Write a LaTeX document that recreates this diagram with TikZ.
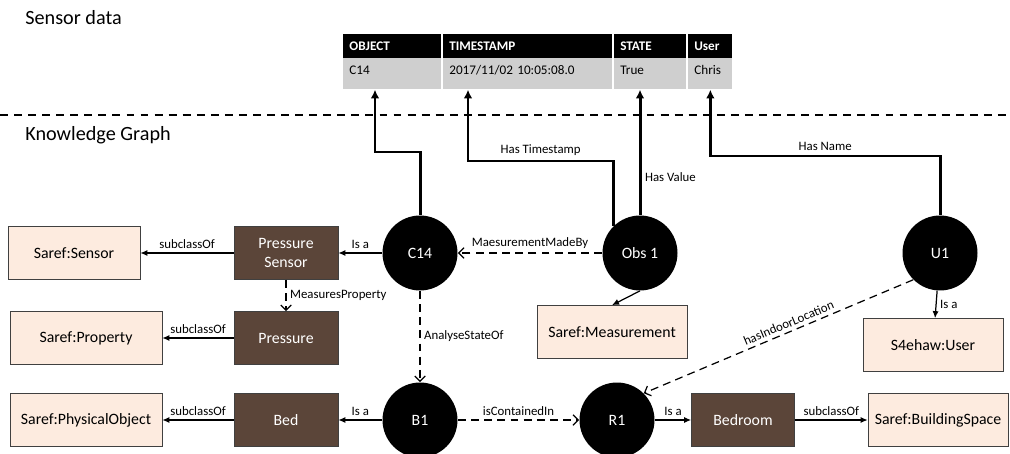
\documentclass[tikz,border=0pt]{standalone}
\usepackage{fontspec}
\setmainfont{Carlito}
\usepackage{tikz}
\usetikzlibrary{arrows.meta}
\usetikzlibrary{shapes,positioning,calc}
\definecolor{classBrown}{HTML}{5B4539}
\definecolor{sarefPeach}{HTML}{FDEBDF}
\definecolor{cellGray}{HTML}{CFCFCF}
\definecolor{boxBorder}{HTML}{404040}
\tikzset{kg-line/.style={line width=0.7pt}}
\tikzset{>=latex}
\tikzset{is-arrow/.style={kg-line, -{Latex[length=4pt, width=3.5pt]}}}
\tikzset{link-arrow/.style={kg-line, dash pattern=on 4.5pt off 3pt, -{Straight Barb[length=3pt, width=6pt]}}}
\tikzset{data-arrow/.style={line width=1.7pt, -{Latex[length=5pt, width=5pt]}}}
\tikzset{edge-label/.style={font=\fontsize{7.3}{9}\selectfont, inner sep=2pt}}
\tikzset{title-label/.style={anchor=west, inner sep=0, font=\fontsize{11.5}{13}\selectfont}}
\tikzset{instance-node/.style={circle, fill=black, text=white, minimum size=1.5cm, inner sep=0, font=\fontsize{9}{10.5}\selectfont}}
\tikzset{class-node/.style={draw=boxBorder, fill=classBrown, text=white, minimum width=2.08cm, minimum height=1.06cm, align=center, inner sep=0, font=\fontsize{9}{10.5}\selectfont}}
\tikzset{saref-node/.style={draw=boxBorder, fill=sarefPeach, minimum height=1.06cm, inner sep=0, font=\fontsize{9}{10.5}\selectfont}}
\tikzset{head-cell/.style={fill=black, text=white, anchor=north west, align=left, inner xsep=0.12cm, inner ysep=0, text height=0.32cm, text depth=0.16cm, font=\bfseries\fontsize{7.5}{9}\selectfont}}
\tikzset{data-cell/.style={fill=cellGray, anchor=north west, align=left, inner xsep=0.12cm, inner ysep=0, text height=0.32cm, text depth=0.3cm, font=\fontsize{7.5}{9}\selectfont}}

\begin{document}
\begin{tikzpicture}[x=0.02cm, y=-0.02cm]
    \useasboundingbox (0,0) rectangle (1010,453);

    \node[title-label] (sensortitle) at (25,18) {Sensor data};
    \node[title-label] (kgtitle) at (25,135) {Knowledge Graph};
    \draw[line width=1.1pt, dash pattern=on 4.5pt off 3.5pt] (0,115) -- (1010,115);

    % sensor table
    \node[head-cell, text width=1.72cm] (obj-head) at (343,34) {OBJECT};
    \node[head-cell, text width=3.14cm] (ts-head) at (443,34) {TIMESTAMP};
    \node[head-cell, text width=1.2cm] (state-head) at (614,34) {STATE};
    \node[head-cell, text width=0.64cm] (user-head) at (688,34) {User};
    \node[data-cell, text width=1.72cm] (obj-cell) at (343,58) {C14};
    \node[data-cell, text width=3.14cm] (ts-cell) at (443,58) {2017/11/02 10:05:08.0};
    \node[data-cell, text width=1.2cm] (state-cell) at (614,58) {True};
    \node[data-cell, text width=0.64cm] (user-cell) at (688,58) {Chris};

    % instances
    \node[instance-node] (c14) at (420,253) {C14};
    \node[instance-node] (obs1) at (640,253) {Obs 1};
    \node[instance-node] (u1) at (940,253) {U1};
    \node[instance-node] (b1) at (420,420) {B1};
    \node[instance-node] (r1) at (617,420) {R1};

    % classes
    \node[class-node] (psensor) at (286,253) {Pressure\\Sensor};
    \node[class-node] (pressure) at (286,338) {Pressure};
    \node[class-node] (bed) at (286,420) {Bed};
    \node[class-node, minimum width=2.06cm] (bedroom) at (743,420) {Bedroom};

    \node[saref-node, minimum width=2.64cm] (sensor) at (74,253) {Saref:Sensor};
    \node[saref-node, minimum width=3.04cm] (property) at (86,338) {Saref:Property};
    \node[saref-node, minimum width=3.04cm] (physobj) at (86,420) {Saref:PhysicalObject};
    \node[saref-node, minimum width=3cm] (measurement) at (612,332) {Saref:Measurement};
    \node[saref-node, minimum width=2.8cm] (s4user) at (933,345) {S4ehaw:User};
    \node[saref-node, minimum width=2.8cm] (buildspace) at (938,420) {Saref:BuildingSpace};

    % links to the sensor data
    \draw[data-arrow] (c14.north) -- (c14.north |- 0,152) -| ([xshift=0.64cm]obj-cell.south west);
    \draw[data-arrow] (obs1.north west) -- (obs1.north west |- 0,161)
        -- node[edge-label, above] {Has Timestamp} ([xshift=0.5cm]ts-cell.south west |- 0,161)
        -- ([xshift=0.5cm]ts-cell.south west);
    \draw[data-arrow] (obs1.north) -- node[edge-label, right, pos=0.3] {Has Value} (obs1.north |- state-cell.south);
    \draw[data-arrow] (u1.north) -- (u1.north |- 0,156)
        -- node[edge-label, above] {Has Name} (user-cell.south |- 0,156)
        -- (user-cell.south);

    % knowledge graph
    \draw[is-arrow] (c14) -- node[edge-label, above] {Is a} (psensor);
    \draw[is-arrow] (psensor) -- node[edge-label, above] {subclassOf} (sensor);
    \draw[link-arrow] (psensor) -- node[edge-label, right] {MeasuresProperty} (pressure);
    \draw[is-arrow] (pressure) -- node[edge-label, above] {subclassOf} (property);
    \draw[link-arrow] (obs1) -- node[edge-label, above] {MaesurementMadeBy} (c14);
    \draw[is-arrow] (obs1.south) -- (measurement.north);
    \draw[link-arrow] (c14) -- node[edge-label, right] {AnalyseStateOf} (b1);
    \draw[is-arrow] (b1) -- node[edge-label, above] {Is a} (bed);
    \draw[is-arrow] (bed) -- node[edge-label, above] {subclassOf} (physobj);
    \draw[link-arrow] (b1) -- node[edge-label, above] {isContainedIn} (r1);
    \draw[is-arrow] (r1) -- node[edge-label, above] {Is a} (bedroom);
    \draw[is-arrow] (bedroom) -- node[edge-label, above] {subclassOf} (buildspace);
    \draw[link-arrow] (u1.south west) -- node[edge-label, above, sloped, pos=0.45] {hasIndoorLocation} (r1.north east);
    \draw[is-arrow] (u1) -- node[edge-label, right] {Is a} (s4user);
\end{tikzpicture}
\end{document}
